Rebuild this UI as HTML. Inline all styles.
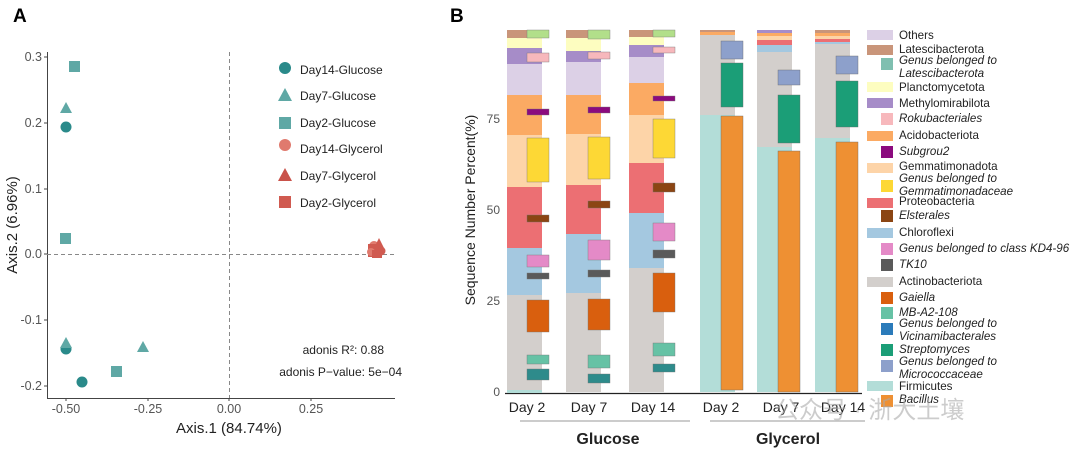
<!DOCTYPE html>
<html><head><meta charset="utf-8"><style>
body{margin:0;background:#fff;}
svg{display:block;font-family:"Liberation Sans","Noto Sans CJK SC",sans-serif;}
</style></head><body>
<svg width="1080" height="452" viewBox="0 0 1080 452" xmlns="http://www.w3.org/2000/svg">
<text x="13" y="22" font-size="19" font-weight="bold">A</text>
<text x="450" y="22" font-size="19" font-weight="bold">B</text>
<!-- Panel A -->
<g stroke="#444" stroke-width="1">
<line x1="47.5" y1="52" x2="47.5" y2="398"/><line x1="47" y1="398.5" x2="395" y2="398.5"/>
<line x1="44" y1="57" x2="47" y2="57"/><line x1="44" y1="123" x2="47" y2="123"/><line x1="44" y1="189" x2="47" y2="189"/><line x1="44" y1="254" x2="47" y2="254"/><line x1="44" y1="320" x2="47" y2="320"/><line x1="44" y1="386" x2="47" y2="386"/>
<line x1="66" y1="398" x2="66" y2="401"/><line x1="148" y1="398" x2="148" y2="401"/><line x1="229" y1="398" x2="229" y2="401"/><line x1="311" y1="398" x2="311" y2="401"/>
</g>
<g stroke="#888" stroke-dasharray="4,3"><line x1="229.5" y1="52" x2="229.5" y2="398"/><line x1="47" y1="254.5" x2="395" y2="254.5"/></g>
<g font-size="12.5" fill="#555" text-anchor="end">
<text x="42" y="61">0.3</text><text x="42" y="127">0.2</text><text x="42" y="193">0.1</text><text x="42" y="258">0.0</text><text x="42" y="324">-0.1</text><text x="42" y="390">-0.2</text></g>
<g font-size="12.5" fill="#555" text-anchor="middle">
<text x="66" y="413">-0.50</text><text x="148" y="413">-0.25</text><text x="229" y="413">0.00</text><text x="311" y="413">0.25</text></g>
<text x="229" y="433" font-size="15" text-anchor="middle" fill="#222">Axis.1 (84.74%)</text>
<text transform="translate(17,225) rotate(-90)" font-size="15" text-anchor="middle" fill="#222">Axis.2 (6.96%)</text>
<g fill="#2a8a8a"><circle cx="66" cy="127" r="5.5"/><circle cx="66" cy="349" r="5.5"/><circle cx="82" cy="382" r="5.5"/></g>
<g fill="#5fa8a5"><polygon points="66,102 72,113 60,113"/><polygon points="66,337 72,348 60,348"/><polygon points="143,341 149,352 137,352"/>
<rect x="69" y="61" width="11" height="11"/><rect x="60" y="233" width="11" height="11"/><rect x="111" y="366" width="11" height="11"/></g>
<g fill="#d05a50"><circle cx="374" cy="246" r="5" fill="#e07a6e"/><rect x="368" y="244" width="14" height="13"/><polygon points="379,238 385,250 373,250"/><circle cx="381" cy="251" r="4.5"/><circle cx="371" cy="252" r="4" fill="#e07a6e"/><rect x="372" y="250" width="10" height="8"/></g>
<g font-size="12" fill="#222">
<circle cx="285" cy="68" r="6" fill="#2a8a8a"/><text x="300" y="74">Day14-Glucose</text>
<polygon points="285,88 292,101 278,101" fill="#5fa8a5"/><text x="300" y="100">Day7-Glucose</text>
<rect x="279" y="117" width="12" height="12" fill="#5fa8a5"/><text x="300" y="127">Day2-Glucose</text>
<circle cx="285" cy="145" r="6" fill="#e07a6e"/><text x="300" y="153">Day14-Glycerol</text>
<polygon points="285,168 292,181 278,181" fill="#c9524a"/><text x="300" y="180">Day7-Glycerol</text>
<rect x="279" y="196" width="12" height="12" fill="#d05a50"/><text x="300" y="207">Day2-Glycerol</text>
<text x="384" y="354" text-anchor="end">adonis R²: 0.88</text>
<text x="402" y="376" text-anchor="end">adonis P−value: 5e−04</text>
</g>
<!-- Panel B axes -->
<line x1="505" y1="393.5" x2="862" y2="393.5" stroke="#222" stroke-width="1.2"/>
<g font-size="12" fill="#555" text-anchor="end"><text x="500" y="396">0</text><text x="500" y="305">25</text><text x="500" y="214">50</text><text x="500" y="123">75</text></g>
<text transform="translate(475,210) rotate(-90)" font-size="14" text-anchor="middle" fill="#222">Sequence Number Percent(%)</text>
<!-- Bar 1 -->
<g>
<rect x="507" y="30" width="35" height="8" fill="#c9957a"/><rect x="507" y="38" width="35" height="10" fill="#fdfdc0"/><rect x="507" y="48" width="35" height="16" fill="#a68cc8"/><rect x="507" y="64" width="35" height="31" fill="#dcd0e6"/><rect x="507" y="95" width="35" height="40" fill="#fbaa63"/><rect x="507" y="135" width="35" height="52" fill="#fdd4a8"/><rect x="507" y="187" width="35" height="61" fill="#ec6f73"/><rect x="507" y="248" width="35" height="47" fill="#a4c8e0"/><rect x="507" y="295" width="35" height="95" fill="#d3cfcc"/><rect x="507" y="390" width="35" height="3" fill="#b3ddd8"/>
<g stroke="#777" stroke-width="0.4">
<rect x="527" y="30" width="22" height="8" fill="#b2df8a"/><rect x="527" y="53" width="22" height="9" fill="#f7b8bc"/><rect x="527" y="109" width="22" height="6" fill="#8b0a7e"/><rect x="527" y="138" width="22" height="44" fill="#fdd835"/><rect x="527" y="215" width="22" height="7" fill="#8b4513"/><rect x="527" y="255" width="22" height="12" fill="#e48ac7"/><rect x="527" y="273" width="22" height="6" fill="#5a5a5a"/><rect x="527" y="300" width="22" height="32" fill="#d95f0e"/><rect x="527" y="355" width="22" height="9" fill="#66c2a5"/><rect x="527" y="369" width="22" height="11" fill="#2e8b8b"/></g></g>
<!-- Bar 2 -->
<g>
<rect x="566" y="30" width="35" height="8" fill="#c9957a"/><rect x="566" y="38" width="35" height="13" fill="#fdfdc0"/><rect x="566" y="51" width="35" height="11" fill="#a68cc8"/><rect x="566" y="62" width="35" height="33" fill="#dcd0e6"/><rect x="566" y="95" width="35" height="39" fill="#fbaa63"/><rect x="566" y="134" width="35" height="51" fill="#fdd4a8"/><rect x="566" y="185" width="35" height="49" fill="#ec6f73"/><rect x="566" y="234" width="35" height="59" fill="#a4c8e0"/><rect x="566" y="293" width="35" height="99" fill="#d3cfcc"/>
<g stroke="#777" stroke-width="0.4">
<rect x="588" y="30" width="22" height="9" fill="#b2df8a"/><rect x="588" y="52" width="22" height="7" fill="#f7b8bc"/><rect x="588" y="107" width="22" height="6" fill="#8b0a7e"/><rect x="588" y="137" width="22" height="42" fill="#fdd835"/><rect x="588" y="201" width="22" height="7" fill="#8b4513"/><rect x="588" y="240" width="22" height="20" fill="#e48ac7"/><rect x="588" y="270" width="22" height="7" fill="#5a5a5a"/><rect x="588" y="299" width="22" height="31" fill="#d95f0e"/><rect x="588" y="355" width="22" height="13" fill="#66c2a5"/><rect x="588" y="374" width="22" height="9" fill="#2e8b8b"/></g></g>
<!-- Bar 3 -->
<g>
<rect x="629" y="30" width="35" height="7" fill="#c9957a"/><rect x="629" y="37" width="35" height="8" fill="#fdfdc0"/><rect x="629" y="45" width="35" height="12" fill="#a68cc8"/><rect x="629" y="57" width="35" height="26" fill="#dcd0e6"/><rect x="629" y="83" width="35" height="32" fill="#fbaa63"/><rect x="629" y="115" width="35" height="48" fill="#fdd4a8"/><rect x="629" y="163" width="35" height="50" fill="#ec6f73"/><rect x="629" y="213" width="35" height="55" fill="#a4c8e0"/><rect x="629" y="268" width="35" height="124" fill="#d3cfcc"/>
<g stroke="#777" stroke-width="0.4">
<rect x="653" y="30" width="22" height="7" fill="#b2df8a"/><rect x="653" y="47" width="22" height="6" fill="#f7b8bc"/><rect x="653" y="96" width="22" height="5" fill="#8b0a7e"/><rect x="653" y="119" width="22" height="39" fill="#fdd835"/><rect x="653" y="183" width="22" height="9" fill="#8b4513"/><rect x="653" y="223" width="22" height="18" fill="#e48ac7"/><rect x="653" y="250" width="22" height="8" fill="#5a5a5a"/><rect x="653" y="273" width="22" height="39" fill="#d95f0e"/><rect x="653" y="343" width="22" height="13" fill="#66c2a5"/><rect x="653" y="364" width="22" height="8" fill="#2e8b8b"/></g></g>
<!-- Bar 4 -->
<g>
<rect x="700" y="30" width="35" height="2" fill="#c9957a"/><rect x="700" y="32" width="35" height="3" fill="#fbaa63"/><rect x="700" y="35" width="35" height="80" fill="#d3cfcc"/><rect x="700" y="115" width="35" height="277" fill="#b3ddd8"/>
<g stroke="#666" stroke-width="0.4"><rect x="721" y="41" width="22" height="18" fill="#8da0cb"/><rect x="721" y="63" width="22" height="44" fill="#1b9e77"/><rect x="721" y="116" width="22" height="274" fill="#ee9033"/></g></g>
<!-- Bar 5 -->
<g>
<rect x="757" y="30" width="35" height="3" fill="#a68cc8"/><rect x="757" y="33" width="35" height="3" fill="#fbaa63"/><rect x="757" y="36" width="35" height="4" fill="#fdd4a8"/><rect x="757" y="40" width="35" height="5" fill="#ec6f73"/><rect x="757" y="45" width="35" height="7" fill="#a4c8e0"/><rect x="757" y="52" width="35" height="95" fill="#d3cfcc"/><rect x="757" y="147" width="35" height="245" fill="#b3ddd8"/>
<g stroke="#666" stroke-width="0.4"><rect x="778" y="70" width="22" height="15" fill="#8da0cb"/><rect x="778" y="95" width="22" height="48" fill="#1b9e77"/><rect x="778" y="151" width="22" height="241" fill="#ee9033"/></g></g>
<!-- Bar 6 -->
<g>
<rect x="815" y="30" width="35" height="3" fill="#c9957a"/><rect x="815" y="33" width="35" height="3" fill="#fbaa63"/><rect x="815" y="36" width="35" height="3" fill="#fdd4a8"/><rect x="815" y="39" width="35" height="3" fill="#ec6f73"/><rect x="815" y="42" width="35" height="2" fill="#a4c8e0"/><rect x="815" y="44" width="35" height="94" fill="#d3cfcc"/><rect x="815" y="138" width="35" height="254" fill="#b3ddd8"/>
<g stroke="#666" stroke-width="0.4"><rect x="836" y="56" width="22" height="18" fill="#8da0cb"/><rect x="836" y="81" width="22" height="46" fill="#1b9e77"/><rect x="836" y="142" width="22" height="250" fill="#ee9033"/></g></g>
<!-- x labels -->
<g font-size="14" fill="#222" text-anchor="middle"><text x="527" y="412">Day 2</text><text x="589" y="412">Day 7</text><text x="653" y="412">Day 14</text><text x="721" y="412">Day 2</text><text x="781" y="412">Day 7</text><text x="843" y="412">Day 14</text></g>
<line x1="520" y1="421" x2="690" y2="421" stroke="#999"/><line x1="710" y1="421" x2="865" y2="421" stroke="#999"/>
<g font-size="16" font-weight="bold" fill="#222" text-anchor="middle"><text x="608" y="444">Glucose</text><text x="788" y="444">Glycerol</text></g>
<!-- legend -->
<g font-size="11.6" fill="#222">
<rect x="867" y="30" width="26" height="10" fill="#dcd0e6"/><text x="899" y="39">Others</text>
<rect x="867" y="45" width="26" height="10" fill="#c9957a"/><text x="899" y="53">Latescibacterota</text>
<rect x="881" y="58" width="12" height="12" fill="#7fbfb0"/><text x="899" y="64" font-style="italic">Genus belonged to</text><text x="899" y="77" font-style="italic">Latescibacterota</text>
<rect x="867" y="82" width="26" height="10" fill="#fdfdc0"/><text x="899" y="91">Planctomycetota</text>
<rect x="867" y="98" width="26" height="10" fill="#a68cc8"/><text x="899" y="107">Methylomirabilota</text>
<rect x="881" y="113" width="12" height="12" fill="#f7b8bc"/><text x="899" y="122" font-style="italic">Rokubacteriales</text>
<rect x="867" y="131" width="26" height="10" fill="#fbaa63"/><text x="899" y="139">Acidobacteriota</text>
<rect x="881" y="146" width="12" height="12" fill="#8b0a7e"/><text x="899" y="155" font-style="italic">Subgrou2</text>
<rect x="867" y="163" width="26" height="10" fill="#fdd4a8"/><text x="899" y="170">Gemmatimonadota</text>
<rect x="881" y="180" width="12" height="12" fill="#fdd835"/><text x="899" y="182" font-style="italic">Genus belonged to</text><text x="899" y="195" font-style="italic">Gemmatimonadaceae</text>
<rect x="867" y="198" width="26" height="10" fill="#ec6f73"/><text x="899" y="205">Proteobacteria</text>
<rect x="881" y="210" width="12" height="12" fill="#8b4513"/><text x="899" y="219" font-style="italic">Elsterales</text>
<rect x="867" y="228" width="26" height="10" fill="#a4c8e0"/><text x="899" y="236">Chloroflexi</text>
<rect x="881" y="243" width="12" height="12" fill="#e48ac7"/><text x="899" y="252" font-style="italic">Genus belonged to class KD4-96</text>
<rect x="881" y="259" width="12" height="12" fill="#5a5a5a"/><text x="899" y="268" font-style="italic">TK10</text>
<rect x="867" y="277" width="26" height="10" fill="#d3cfcc"/><text x="899" y="285">Actinobacteriota</text>
<rect x="881" y="292" width="12" height="12" fill="#d95f0e"/><text x="899" y="301" font-style="italic">Gaiella</text>
<rect x="881" y="307" width="12" height="12" fill="#66c2a5"/><text x="899" y="316" font-style="italic">MB-A2-108</text>
<rect x="881" y="323" width="12" height="12" fill="#2b7bba"/><text x="899" y="327" font-style="italic">Genus belonged to</text><text x="899" y="340" font-style="italic">Vicinamibacterales</text>
<rect x="881" y="344" width="12" height="12" fill="#1b9e77"/><text x="899" y="353" font-style="italic">Streptomyces</text>
<rect x="881" y="360" width="12" height="12" fill="#8da0cb"/><text x="899" y="365" font-style="italic">Genus belonged to</text><text x="899" y="378" font-style="italic">Micrococcaceae</text>
<rect x="867" y="381" width="26" height="10" fill="#b3ddd8"/><text x="899" y="390">Firmicutes</text>
<rect x="881" y="395" width="12" height="12" fill="#ee9033"/><text x="899" y="403" font-style="italic">Bacillus</text>
</g>
<text x="775" y="418" font-size="24" fill="#aaa" fill-opacity="0.6">公众号 · 浙大土壤</text>
</svg>
</body></html>
